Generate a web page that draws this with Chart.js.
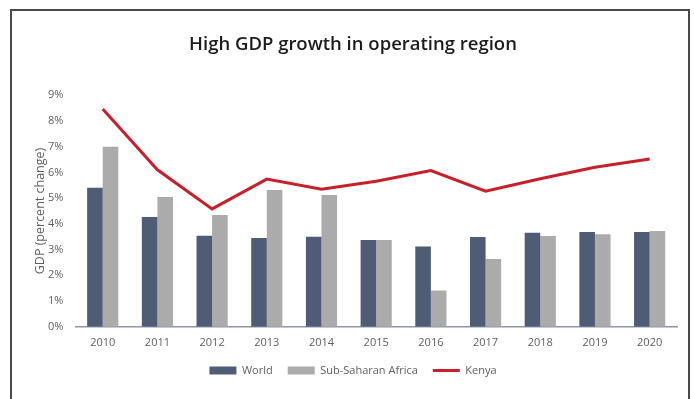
<!DOCTYPE html>
<html>
<head>
<meta charset="utf-8">
<script src="https://cdn.jsdelivr.net/npm/chart.js@4/dist/chart.umd.min.js"></script>
<style>
  html, body { margin: 0; padding: 0; background: #fff; }
  #wrap { position: relative; width: 694px; height: 399px; overflow: hidden; }
  #frame { position: absolute; left: 10px; top: 9px; width: 676px; height: 420px; border: 2px solid #4a4a4a; pointer-events: none; }
  canvas { position: absolute; left: 0; top: 0; }
</style>
</head>
<body>
<div id="wrap">
  <canvas id="chart" width="694" height="399"></canvas>
  <div id="frame"></div>
</div>
<script>
let years = ['2010', '2011', '2012', '2013', '2014', '2015', '2016', '2017', '2018', '2019', '2020'];
let world = [5.4, 4.27, 3.54, 3.45, 3.5, 3.37, 3.12, 3.49, 3.65, 3.68, 3.68];
let ssa = [7.0, 5.04, 4.34, 5.32, 5.12, 3.37, 1.41, 2.63, 3.53, 3.6, 3.72];
let kenya = [8.46, 6.1, 4.58, 5.74, 5.35, 5.66, 6.07, 5.27, 5.75, 6.2, 6.52];
let yTicks = [0, 1, 2, 3, 4, 5, 6, 7, 8, 9];

let font = "'Open Sans', 'DejaVu Sans', sans-serif";
let tickColor = '#5f5f5f';

function simulateChart(canvasId) {
    let ctx = document.getElementById(canvasId).getContext('2d');

    return new Chart(ctx, {
        type: 'bar',
        data: {
            labels: years,
            datasets: [{
                label: 'World',
                data: world,
                backgroundColor: '#4e5d75',
                borderWidth: 0
            }, {
                label: 'Sub-Saharan Africa',
                data: ssa,
                backgroundColor: '#ababab',
                borderWidth: 0
            }, {
                type: 'line',
                label: 'Kenya',
                data: kenya,
                borderColor: '#c8202b',
                backgroundColor: '#c8202b',
                borderWidth: 3,
                pointRadius: 0,
                tension: 0,
                order: -1
            }]
        },
        options: {
            responsive: false,
            animation: false,
            categoryPercentage: 0.57,
            barPercentage: 1,
            layout: {
                padding: { left: 29, right: 17, top: 0, bottom: 13 }
            },
            scales: {
                x: {
                    grid: { display: false, drawTicks: false },
                    border: { display: true, color: '#8d97a8', width: 1.5 },
                    ticks: { color: tickColor, font: { family: font, size: 11 }, padding: 9 },
                    afterFit: function (scale) {
                        scale.height -= 8;
                    }
                },
                y: {
                    min: 0,
                    max: 9,
                    afterBuildTicks: function (scale) {
                        scale.ticks = yTicks.map(v => ({ value: v }));
                    },
                    afterFit: function (scale) {
                        scale.width -= 14;
                    },
                    grid: { display: false, drawTicks: false },
                    border: { display: false },
                    ticks: {
                        color: tickColor,
                        font: { family: font, size: 11 },
                        padding: 12,
                        callback: v => v + '%'
                    },
                    title: {
                        display: true,
                        text: 'GDP (percent change)',
                        color: tickColor,
                        font: { family: font, size: 12.5 },
                        padding: { top: 4, bottom: 2 }
                    }
                }
            },
            plugins: {
                title: {
                    display: true,
                    text: 'High GDP growth in operating region',
                    color: '#1c1c1c',
                    font: { family: font, size: 18.5, weight: '600' },
                    padding: { top: 33.5, bottom: 39.5 }
                },
                legend: {
                    position: 'bottom',
                    labels: {
                        color: tickColor,
                        font: { family: font, size: 11 },
                        usePointStyle: true,
                        pointStyleWidth: 27,
                        boxHeight: 8,
                        padding: 15,
                        sort: (a, b) => a.datasetIndex - b.datasetIndex,
                        generateLabels: function (chart) {
                            let items = Chart.defaults.plugins.legend.labels.generateLabels(chart);
                            items.forEach(item => {
                                if (item.datasetIndex === 2) {
                                    item.pointStyle = 'line';
                                    item.lineWidth = 3;
                                    item.strokeStyle = '#c8202b';
                                } else {
                                    item.pointStyle = 'rect';
                                    item.lineWidth = 0;
                                }
                            });
                            return items;
                        }
                    }
                },
                tooltip: { enabled: false }
            }
        }
    });
}

simulateChart('chart');
</script>
</body>
</html>
